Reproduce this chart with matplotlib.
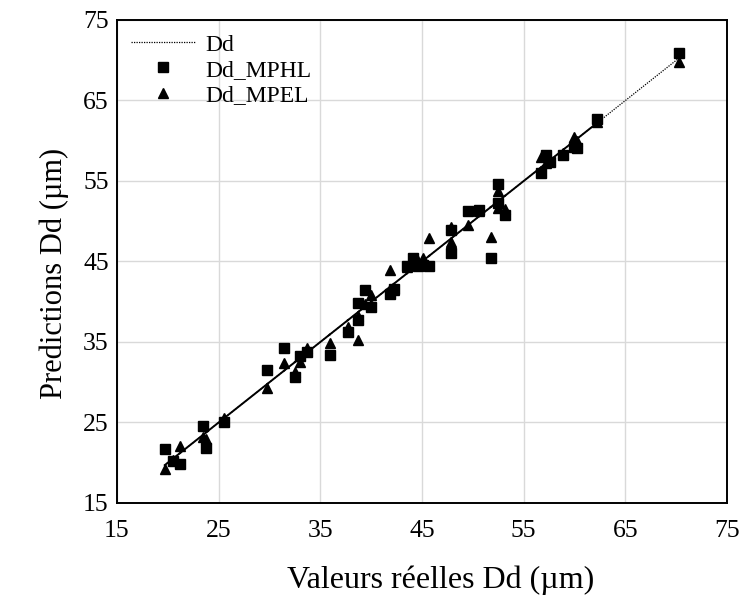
import numpy as np
import matplotlib
matplotlib.use("Agg")
import matplotlib.pyplot as plt

# valeurs reelles et predictions
dd_real = [19.7, 20.5, 21.2, 23.5, 23.8, 25.5, 29.8, 31.45, 32.5, 33.0,
           33.65, 35.9, 37.7, 38.75, 38.75, 39.4, 40.0, 41.8, 42.2, 43.5,
           44.15, 44.6, 45.1, 45.7, 47.85, 47.85, 49.55, 50.6, 51.75, 52.5,
           52.5, 53.15, 56.7, 57.2, 57.6, 58.9, 59.9, 60.2, 62.2, 70.3]
dd_mphl = [21.7, 20.2, 19.8, 24.5, 21.8, 25.1, 31.5, 34.3, 30.7, 33.3,
           33.8, 33.4, 36.3, 37.7, 39.9, 41.4, 39.3, 40.9, 41.55, 44.45,
           45.4, 44.45, 44.6, 44.45, 46.0, 48.9, 51.3, 51.4, 45.4, 54.6,
           52.3, 50.8, 55.95, 58.2, 57.4, 58.2, 59.25, 59.05, 62.65, 70.85]
dd_mpel = [19.2, 20.4, 22.1, 23.2, 23.0, 25.6, 29.25, 32.35, 31.3, 32.55,
           34.3, 34.9, 36.9, 35.3, 38.2, 39.7, 40.8, 44.0, 41.5, 44.3,
           44.8, 45.0, 45.4, 47.9, 47.4, 49.3, 49.5, 51.3, 48.1, 53.7,
           51.6, 51.5, 58.0, 57.2, 57.6, 58.5, 60.5, 60.0, 62.3, 69.8]

ticks = [15, 25, 35, 45, 55, 65, 75]

plt.rcParams['font.family'] = ['Liberation Serif', 'DejaVu Serif']

fig = plt.figure(figsize=(7.45, 6.02), dpi=100)
ax = fig.add_axes([0.157, 0.1645, 0.819, 0.8023])

x = np.array(dd_real)
order = np.argsort(x)
xs = x[order]

# ligne Dd : pointillee, mais quasi continue la ou les points sont serres
ax.plot(xs, xs, linestyle=(0, (1, 1)), color='black', lw=0.9, label='Dd', zorder=2)
for i in range(len(xs) - 1):
    if xs[i + 1] - xs[i] < 5:
        ax.plot(xs[i:i + 2], xs[i:i + 2], '-', color='black', lw=1.4, zorder=2)

ax.plot(dd_real, dd_mphl, 's', color='black', ms=6.5, ls='none', label='Dd_MPHL', zorder=3)
ax.plot(dd_real, dd_mpel, '^', color='black', ms=6.5, ls='none', label='Dd_MPEL', zorder=3)

ax.set_xlim(15, 75)
ax.set_ylim(15, 75)
ax.set_xticks(ticks)
ax.set_yticks(ticks)
ax.tick_params(length=0, labelsize=18.5)
ax.tick_params(axis='x', pad=12)
ax.tick_params(axis='y', pad=6)
ax.grid(True, color='#d9d9d9', lw=1)
ax.set_axisbelow(True)
for s in ax.spines.values():
    s.set_linewidth(1.4)

ax.set_xlabel('Valeurs réelles Dd (µm)', fontsize=23, va='center')
ax.set_ylabel('Predictions Dd (µm)', fontsize=22, va='center')
ax.xaxis.set_label_coords(0.531, -0.159)
ax.yaxis.set_label_coords(-0.103, 0.476)

ax.legend(loc='upper left', frameon=False, fontsize=17, handlelength=2.7,
          borderaxespad=0.2, labelspacing=0.15, handletextpad=0.45)

fig.savefig('out.png', dpi=100)
